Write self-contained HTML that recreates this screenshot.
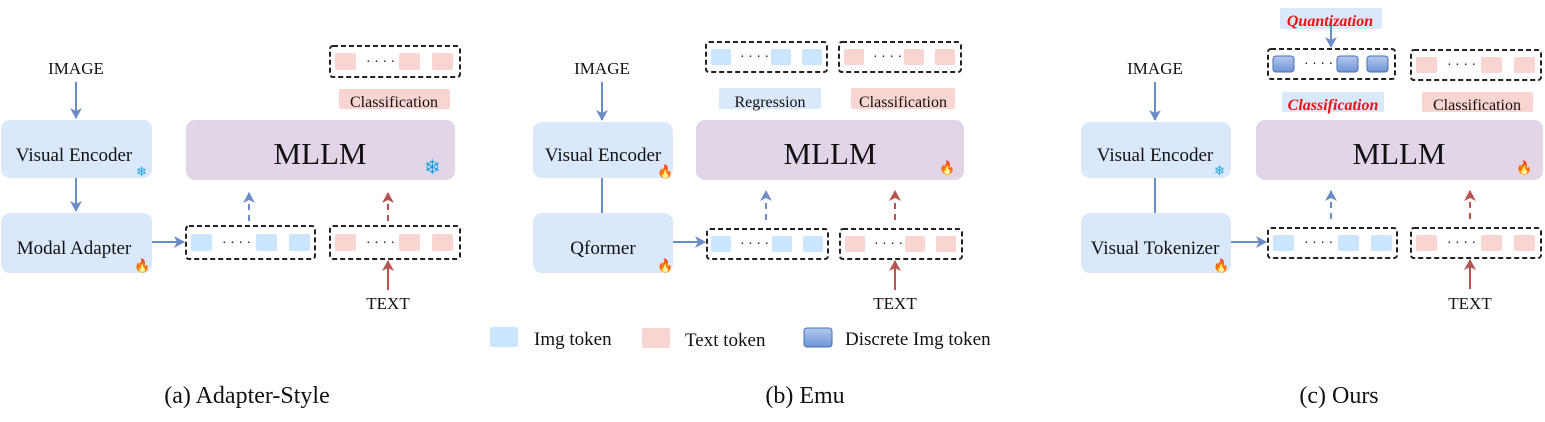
<!DOCTYPE html>
<html><head><meta charset="utf-8"><style>
body{margin:0;background:#fff}
svg text{font-family:"Liberation Serif",serif;fill:#111}
</style></head><body>
<svg width="1545" height="417" viewBox="0 0 1545 417" xmlns="http://www.w3.org/2000/svg">
<defs>
<marker id="ab" markerWidth="12" markerHeight="12" refX="10" refY="6" orient="auto" markerUnits="userSpaceOnUse"><path d="M0,0 L11,6 L0,12 L3,6 Z" fill="#6b8cc4"/></marker>
<marker id="ar" markerWidth="12" markerHeight="12" refX="10" refY="6" orient="auto" markerUnits="userSpaceOnUse"><path d="M0,0 L11,6 L0,12 L3,6 Z" fill="#b85450"/></marker>
<linearGradient id="dg" x1="0" y1="0" x2="0" y2="1"><stop offset="0" stop-color="#b3c9ee"/><stop offset="1" stop-color="#6f95d6"/></linearGradient>
</defs>
<g stroke-width="2">
<!-- Panel A -->
<text x="76" y="74" font-size="17" text-anchor="middle">IMAGE</text>
<line x1="76" y1="82" x2="76" y2="118" stroke="#6b8cc4" marker-end="url(#ab)"/>
<rect x="1" y="120" width="151" height="58" rx="9" fill="#dae8fc"/>
<text x="74" y="161" font-size="19" text-anchor="middle">Visual Encoder</text>
<text x="136" y="176" font-size="13" style="fill:#1ba1e2">❄</text>
<line x1="76" y1="178" x2="76" y2="211" stroke="#6b8cc4" marker-end="url(#ab)"/>
<rect x="1" y="213" width="151" height="60" rx="9" fill="#dae8fc"/>
<text x="74" y="254" font-size="19" text-anchor="middle">Modal Adapter</text>
<text x="134" y="270" font-size="13" style="fill:#f08030">🔥</text>
<line x1="152" y1="242" x2="184" y2="242" stroke="#6b8cc4" marker-end="url(#ab)"/>
<rect x="186" y="226" width="129" height="33" rx="3" fill="none" stroke="#222" stroke-dasharray="5,3"/>
<rect x="191" y="234" width="21" height="17" rx="2" fill="#cce5ff"/><text x="222" y="247" font-size="14">· · · ·</text>
<rect x="256" y="234" width="21" height="17" rx="2" fill="#cce5ff"/><rect x="289" y="234" width="21" height="17" rx="2" fill="#cce5ff"/>
<rect x="330" y="226" width="130" height="33" rx="3" fill="none" stroke="#222" stroke-dasharray="5,3"/>
<rect x="335" y="234" width="21" height="17" rx="2" fill="#f8d5d0"/><text x="366" y="247" font-size="14">· · · ·</text>
<rect x="399" y="234" width="21" height="17" rx="2" fill="#f8d5d0"/><rect x="432" y="234" width="21" height="17" rx="2" fill="#f8d5d0"/>
<rect x="186" y="120" width="269" height="60" rx="9" fill="#e1d5e7"/>
<text x="320" y="164" font-size="31" text-anchor="middle">MLLM</text>
<text x="424" y="174" font-size="20" style="fill:#1ba1e2">❄</text>
<line x1="249" y1="221" x2="249" y2="193" stroke="#6b8cc4" stroke-dasharray="6,5" marker-end="url(#ab)"/>
<line x1="388" y1="221" x2="388" y2="193" stroke="#b85450" stroke-dasharray="6,5" marker-end="url(#ar)"/>
<line x1="388" y1="290" x2="388" y2="261" stroke="#b85450" marker-end="url(#ar)"/>
<text x="388" y="309" font-size="17" text-anchor="middle">TEXT</text>
<rect x="330" y="46" width="130" height="31" rx="3" fill="none" stroke="#222" stroke-dasharray="5,3"/>
<rect x="335" y="53" width="21" height="17" rx="2" fill="#f8d5d0"/><text x="366" y="66" font-size="14">· · · ·</text>
<rect x="399" y="53" width="21" height="17" rx="2" fill="#f8d5d0"/><rect x="432" y="53" width="21" height="17" rx="2" fill="#f8d5d0"/>
<rect x="339" y="89" width="111" height="20" rx="2" fill="#f8d5d0"/>
<text x="394" y="107" font-size="16" text-anchor="middle">Classification</text>

<!-- Panel B -->
<text x="602" y="74" font-size="17" text-anchor="middle">IMAGE</text>
<line x1="602" y1="82" x2="602" y2="120" stroke="#6b8cc4" marker-end="url(#ab)"/>
<rect x="533" y="122" width="140" height="56" rx="9" fill="#dae8fc"/>
<text x="603" y="161" font-size="19" text-anchor="middle">Visual Encoder</text>
<text x="657" y="176" font-size="13" style="fill:#f08030">🔥</text>
<line x1="602" y1="178" x2="602" y2="213" stroke="#6b8cc4"/>
<rect x="533" y="213" width="140" height="60" rx="9" fill="#dae8fc"/>
<text x="603" y="254" font-size="19" text-anchor="middle">Qformer</text>
<text x="657" y="270" font-size="13" style="fill:#f08030">🔥</text>
<line x1="673" y1="242" x2="705" y2="242" stroke="#6b8cc4" marker-end="url(#ab)"/>
<rect x="707" y="229" width="121" height="30" rx="3" fill="none" stroke="#222" stroke-dasharray="5,3"/>
<rect x="711" y="236" width="20" height="16" rx="2" fill="#cce5ff"/><text x="740" y="248" font-size="14">· · · ·</text>
<rect x="772" y="236" width="20" height="16" rx="2" fill="#cce5ff"/><rect x="803" y="236" width="20" height="16" rx="2" fill="#cce5ff"/>
<rect x="840" y="229" width="122" height="30" rx="3" fill="none" stroke="#222" stroke-dasharray="5,3"/>
<rect x="845" y="236" width="20" height="16" rx="2" fill="#f8d5d0"/><text x="874" y="248" font-size="14">· · · ·</text>
<rect x="905" y="236" width="20" height="16" rx="2" fill="#f8d5d0"/><rect x="936" y="236" width="20" height="16" rx="2" fill="#f8d5d0"/>
<rect x="696" y="120" width="268" height="60" rx="9" fill="#e1d5e7"/>
<text x="830" y="164" font-size="31" text-anchor="middle">MLLM</text>
<text x="939" y="172" font-size="13" style="fill:#f08030">🔥</text>
<line x1="766" y1="220" x2="766" y2="191" stroke="#6b8cc4" stroke-dasharray="6,5" marker-end="url(#ab)"/>
<line x1="895" y1="220" x2="895" y2="191" stroke="#b85450" stroke-dasharray="6,5" marker-end="url(#ar)"/>
<line x1="895" y1="290" x2="895" y2="261" stroke="#b85450" marker-end="url(#ar)"/>
<text x="895" y="309" font-size="17" text-anchor="middle">TEXT</text>
<rect x="706" y="42" width="121" height="30" rx="3" fill="none" stroke="#222" stroke-dasharray="5,3"/>
<rect x="711" y="49" width="20" height="16" rx="2" fill="#cce5ff"/><text x="740" y="61" font-size="14">· · · ·</text>
<rect x="771" y="49" width="20" height="16" rx="2" fill="#cce5ff"/><rect x="802" y="49" width="20" height="16" rx="2" fill="#cce5ff"/>
<rect x="839" y="42" width="122" height="30" rx="3" fill="none" stroke="#222" stroke-dasharray="5,3"/>
<rect x="844" y="49" width="20" height="16" rx="2" fill="#f8d5d0"/><text x="873" y="61" font-size="14">· · · ·</text>
<rect x="904" y="49" width="20" height="16" rx="2" fill="#f8d5d0"/><rect x="935" y="49" width="20" height="16" rx="2" fill="#f8d5d0"/>
<rect x="719" y="88" width="102" height="21" rx="2" fill="#dae8fc"/>
<text x="770" y="107" font-size="16" text-anchor="middle">Regression</text>
<rect x="851" y="88" width="104" height="21" rx="2" fill="#f8d5d0"/>
<text x="903" y="107" font-size="16" text-anchor="middle">Classification</text>

<!-- Panel C -->
<text x="1155" y="74" font-size="17" text-anchor="middle">IMAGE</text>
<line x1="1155" y1="82" x2="1155" y2="120" stroke="#6b8cc4" marker-end="url(#ab)"/>
<rect x="1081" y="122" width="150" height="56" rx="9" fill="#dae8fc"/>
<text x="1155" y="161" font-size="19" text-anchor="middle">Visual Encoder</text>
<text x="1214" y="175" font-size="13" style="fill:#1ba1e2">❄</text>
<line x1="1155" y1="178" x2="1155" y2="213" stroke="#6b8cc4"/>
<rect x="1081" y="213" width="150" height="60" rx="9" fill="#dae8fc"/>
<text x="1155" y="254" font-size="19" text-anchor="middle">Visual Tokenizer</text>
<text x="1213" y="270" font-size="13" style="fill:#f08030">🔥</text>
<line x1="1231" y1="242" x2="1266" y2="242" stroke="#6b8cc4" marker-end="url(#ab)"/>
<rect x="1268" y="228" width="129" height="30" rx="3" fill="none" stroke="#222" stroke-dasharray="5,3"/>
<rect x="1273" y="235" width="21" height="16" rx="2" fill="#cce5ff"/><text x="1304" y="247" font-size="14">· · · ·</text>
<rect x="1338" y="235" width="21" height="16" rx="2" fill="#cce5ff"/><rect x="1371" y="235" width="21" height="16" rx="2" fill="#cce5ff"/>
<rect x="1411" y="228" width="130" height="30" rx="3" fill="none" stroke="#222" stroke-dasharray="5,3"/>
<rect x="1416" y="235" width="21" height="16" rx="2" fill="#f8d5d0"/><text x="1447" y="247" font-size="14">· · · ·</text>
<rect x="1481" y="235" width="21" height="16" rx="2" fill="#f8d5d0"/><rect x="1514" y="235" width="21" height="16" rx="2" fill="#f8d5d0"/>
<rect x="1256" y="120" width="287" height="60" rx="9" fill="#e1d5e7"/>
<text x="1399" y="164" font-size="31" text-anchor="middle">MLLM</text>
<text x="1516" y="172" font-size="13" style="fill:#f08030">🔥</text>
<line x1="1331" y1="219" x2="1331" y2="191" stroke="#6b8cc4" stroke-dasharray="6,5" marker-end="url(#ab)"/>
<line x1="1470" y1="219" x2="1470" y2="191" stroke="#b85450" stroke-dasharray="6,5" marker-end="url(#ar)"/>
<line x1="1470" y1="289" x2="1470" y2="260" stroke="#b85450" marker-end="url(#ar)"/>
<text x="1470" y="309" font-size="17" text-anchor="middle">TEXT</text>
<rect x="1268" y="49" width="127" height="30" rx="3" fill="none" stroke="#222" stroke-dasharray="5,3"/>
<rect x="1273" y="56" width="21" height="16" rx="3" fill="url(#dg)" stroke="#4a6fb0" stroke-width="1"/><text x="1304" y="68" font-size="14">· · · ·</text>
<rect x="1337" y="56" width="21" height="16" rx="3" fill="url(#dg)" stroke="#4a6fb0" stroke-width="1"/><rect x="1367" y="56" width="21" height="16" rx="3" fill="url(#dg)" stroke="#4a6fb0" stroke-width="1"/>
<rect x="1411" y="50" width="130" height="30" rx="3" fill="none" stroke="#222" stroke-dasharray="5,3"/>
<rect x="1416" y="57" width="21" height="16" rx="2" fill="#f8d5d0"/><text x="1447" y="69" font-size="14">· · · ·</text>
<rect x="1481" y="57" width="21" height="16" rx="2" fill="#f8d5d0"/><rect x="1514" y="57" width="21" height="16" rx="2" fill="#f8d5d0"/>
<rect x="1280" y="8" width="102" height="21" rx="2" fill="#dae8fc"/>
<line x1="1331" y1="22" x2="1331" y2="47" stroke="#6b8cc4" marker-end="url(#ab)"/>
<text x="1330" y="26" font-size="16" font-weight="bold" font-style="italic" text-anchor="middle" style="fill:#ee1111">Quantization</text>
<rect x="1282" y="92" width="102" height="20" rx="2" fill="#dae8fc"/>
<text x="1333" y="110" font-size="16" font-weight="bold" font-style="italic" text-anchor="middle" style="fill:#ee1111">Classification</text>
<rect x="1422" y="92" width="111" height="20" rx="2" fill="#f8d5d0"/>
<text x="1477" y="110" font-size="16" text-anchor="middle">Classification</text>

<!-- Legend -->
<rect x="490" y="327" width="28" height="20" rx="2" fill="#cce5ff"/>
<text x="534" y="345" font-size="19">Img token</text>
<rect x="642" y="328" width="28" height="20" rx="2" fill="#f8d5d0"/>
<text x="685" y="346" font-size="19">Text token</text>
<rect x="804" y="328" width="28" height="19" rx="3" fill="url(#dg)" stroke="#4a6fb0" stroke-width="1"/>
<text x="845" y="345" font-size="19">Discrete Img token</text>

<!-- Captions -->
<text x="247" y="403" font-size="24" text-anchor="middle">(a) Adapter-Style</text>
<text x="805" y="403" font-size="24" text-anchor="middle">(b) Emu</text>
<text x="1339" y="403" font-size="24" text-anchor="middle">(c) Ours</text>
</g>
</svg>
</body></html>
